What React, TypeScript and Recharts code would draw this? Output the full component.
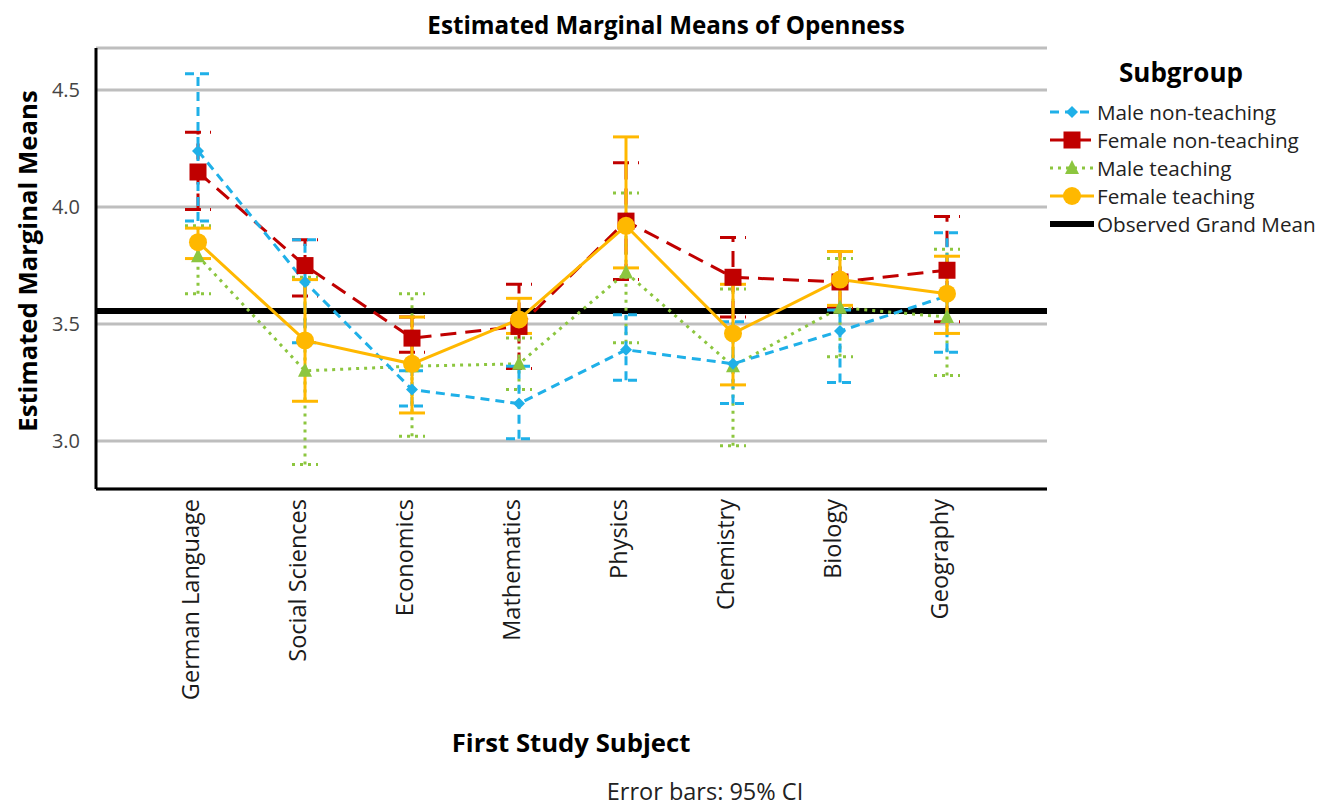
import React from 'react';
import { ComposedChart, Line, XAxis, YAxis, CartesianGrid, ErrorBar, ReferenceLine } from 'recharts';

const subjects = ['German Language', 'Social Sciences', 'Economics', 'Mathematics', 'Physics', 'Chemistry', 'Biology', 'Geography'];

const maleNonTeachMean = [4.24, 3.68, 3.22, 3.16, 3.39, 3.33, 3.47, 3.62];
const maleNonTeachLow = [3.94, 3.42, 3.15, 3.01, 3.26, 3.16, 3.25, 3.38];
const maleNonTeachHigh = [4.57, 3.86, 3.30, 3.32, 3.54, 3.51, 3.56, 3.89];

const femaleNonTeachMean = [4.15, 3.75, 3.44, 3.49, 3.94, 3.70, 3.68, 3.73];
const femaleNonTeachLow = [3.99, 3.62, 3.38, 3.31, 3.69, 3.53, 3.57, 3.51];
const femaleNonTeachHigh = [4.32, 3.86, 3.53, 3.67, 4.19, 3.87, 3.81, 3.96];

const maleTeachMean = [3.79, 3.30, 3.32, 3.33, 3.72, 3.32, 3.57, 3.53];
const maleTeachLow = [3.63, 2.90, 3.02, 3.22, 3.42, 2.98, 3.36, 3.28];
const maleTeachHigh = [3.92, 3.70, 3.63, 3.44, 4.06, 3.65, 3.78, 3.82];

const femaleTeachMean = [3.85, 3.43, 3.33, 3.52, 3.92, 3.46, 3.69, 3.63];
const femaleTeachLow = [3.78, 3.17, 3.12, 3.46, 3.74, 3.24, 3.58, 3.46];
const femaleTeachHigh = [3.91, 3.69, 3.53, 3.61, 4.30, 3.67, 3.81, 3.79];

const grandMean = 3.556;
const yTicks = [3.0, 3.5, 4.0, 4.5];

const FONT = "'Open Sans', sans-serif";

const err = (mean: number[], lo: number[], hi: number[], i: number) => [mean[i] - lo[i], hi[i] - mean[i]];

const data = subjects.map((s, i) => ({
  subject: s,
  mnt: maleNonTeachMean[i],
  mntErr: err(maleNonTeachMean, maleNonTeachLow, maleNonTeachHigh, i),
  fnt: femaleNonTeachMean[i],
  fntErr: err(femaleNonTeachMean, femaleNonTeachLow, femaleNonTeachHigh, i),
  mt: maleTeachMean[i],
  mtErr: err(maleTeachMean, maleTeachLow, maleTeachHigh, i),
  ft: femaleTeachMean[i],
  ftErr: err(femaleTeachMean, femaleTeachLow, femaleTeachHigh, i),
}));

const BLUE = '#1FB0E8';
const RED = '#C00000';
const GREEN = '#8CC63F';
const ORANGE = '#FFB800';

const Diamond = ({ cx, cy, fill }: any) =>
  cx == null ? null : <path d={`M${cx},${cy - 6}L${cx + 6},${cy}L${cx},${cy + 6}L${cx - 6},${cy}Z`} fill={fill} />;
const Square = ({ cx, cy, fill }: any) =>
  cx == null ? null : <rect x={cx - 8.5} y={cy - 8.5} width={17} height={17} fill={fill} />;
const Triangle = ({ cx, cy, fill }: any) =>
  cx == null ? null : <path d={`M${cx},${cy - 8}L${cx + 7},${cy + 6}L${cx - 7},${cy + 6}Z`} fill={fill} />;
const Circle = ({ cx, cy, fill }: any) =>
  cx == null ? null : <circle cx={cx} cy={cy} r={9} fill={fill} />;

const series = [
  { key: 'mnt', errKey: 'mntErr', name: 'Male non-teaching', color: BLUE, dash: '9 6', marker: Diamond },
  { key: 'fnt', errKey: 'fntErr', name: 'Female non-teaching', color: RED, dash: '16 9', marker: Square },
  { key: 'mt', errKey: 'mtErr', name: 'Male teaching', color: GREEN, dash: '3 5', marker: Triangle },
  { key: 'ft', errKey: 'ftErr', name: 'Female teaching', color: ORANGE, dash: undefined as string | undefined, marker: Circle },
];

const drawOrder = [1, 2, 0, 3];

const XTick = (props: any) => {
  const { x, y, payload } = props;
  return (
    <text
      x={0}
      y={0}
      transform={`translate(${x - 7},${y + 2}) rotate(-90)`}
      textAnchor="end"
      dy="0.36em"
      fontSize={23.5}
      fontFamily={FONT}
      fill="#1a1a1a"
    >
      {payload.value}
    </text>
  );
};

const LegendIcon = ({ s }: any) => {
  const M = s.marker;
  return (
    <svg width={50} height={20} style={{ display: 'block' }}>
      <line x1={4} y1={10} x2={48} y2={10} stroke={s.color} strokeWidth={3} strokeDasharray={s.dash} />
      <M cx={26} cy={10} fill={s.color} />
    </svg>
  );
};

const labelBase: React.CSSProperties = { position: 'absolute', whiteSpace: 'nowrap', lineHeight: 1, color: '#000' };

export default function App() {
  return (
    <div style={{ position: 'absolute', left: 0, top: 0, width: 1324, height: 806, background: '#fff', fontFamily: FONT, overflow: 'hidden' }}>
      <ComposedChart
        width={1324}
        height={806}
        data={data}
        margin={{ top: 48, right: 277, left: 26, bottom: 117 }}
      >
        <CartesianGrid horizontal vertical={false} stroke="#BEBEBE" strokeWidth={3} />
        <XAxis
          dataKey="subject"
          scale="point"
          padding={{ left: 102, right: 100 }}
          height={200}
          axisLine={{ stroke: '#000', strokeWidth: 3 }}
          tickLine={false}
          interval={0}
          tick={<XTick />}
        />
        <YAxis
          type="number"
          domain={[2.795, 4.68]}
          allowDataOverflow
          ticks={yTicks}
          width={70}
          tickFormatter={(v: number) => v.toFixed(1)}
          axisLine={{ stroke: '#000', strokeWidth: 3 }}
          tickLine={false}
          tickMargin={10}
          tick={{ fontSize: 20, fill: '#444', fontFamily: FONT }}
        />
        <ReferenceLine y={grandMean} stroke="#000" strokeWidth={6} />
        {drawOrder.map((idx) => {
          const s = series[idx];
          const M = s.marker;
          return (
            <Line
              key={s.key}
              type="linear"
              dataKey={s.key}
              name={s.name}
              stroke={s.color}
              strokeWidth={3}
              strokeDasharray={s.dash}
              isAnimationActive={false}
              dot={(p: any) => <M key={`${s.key}-${p.index}`} cx={p.cx} cy={p.cy} fill={s.color} />}
              activeDot={false}
            >
              <ErrorBar
                dataKey={s.errKey}
                direction="y"
                width={13}
                stroke={s.color}
                strokeWidth={3}
                strokeDasharray={s.dash}
                isAnimationActive={false}
              />
            </Line>
          );
        })}
      </ComposedChart>

      <div style={{ ...labelBase, left: 666, top: 25, transform: 'translate(-50%, -50%)', fontSize: 24.2, fontWeight: 700 }}>
        Estimated Marginal Means of Openness
      </div>

      <div style={{ ...labelBase, left: 28, top: 261, transform: 'translate(-50%, -50%) rotate(-90deg)', fontSize: 25.7, fontWeight: 700 }}>
        Estimated Marginal Means
      </div>

      <div style={{ ...labelBase, left: 571, top: 743, transform: 'translate(-50%, -50%)', fontSize: 25.7, fontWeight: 700 }}>
        First Study Subject
      </div>

      <div style={{ ...labelBase, left: 705, top: 792, transform: 'translate(-50%, -50%)', fontSize: 23.5, color: '#222' }}>
        Error bars: 95% CI
      </div>

      <div style={{ ...labelBase, left: 1181, top: 72, transform: 'translate(-50%, -50%)', fontSize: 26, fontWeight: 700 }}>
        Subgroup
      </div>

      <div style={{ position: 'absolute', left: 1046, top: 98 }}>
        {series.map((s) => (
          <div key={s.key} style={{ display: 'flex', alignItems: 'center', height: 28 }}>
            <LegendIcon s={s} />
            <span style={{ fontSize: 20.7, color: '#222', marginLeft: 1, whiteSpace: 'nowrap' }}>{s.name}</span>
          </div>
        ))}
        <div style={{ display: 'flex', alignItems: 'center', height: 28 }}>
          <svg width={50} height={20} style={{ display: 'block' }}>
            <line x1={4} y1={10} x2={48} y2={10} stroke="#000" strokeWidth={6} />
          </svg>
          <span style={{ fontSize: 20.7, color: '#222', marginLeft: 1, whiteSpace: 'nowrap' }}>Observed Grand Mean</span>
        </div>
      </div>
    </div>
  );
}
